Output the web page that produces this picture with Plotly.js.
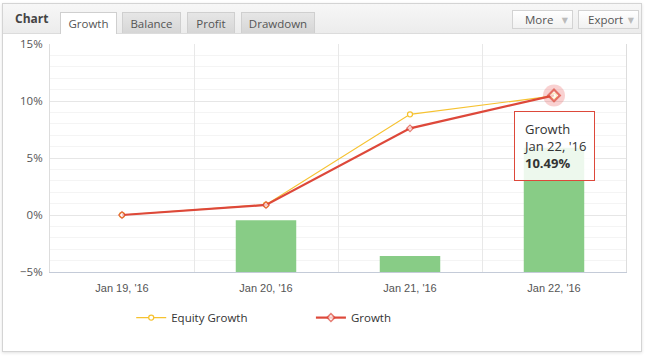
<!DOCTYPE html>
<html>
<head>
<meta charset="utf-8">
<script src="https://cdn.plot.ly/plotly-3.0.1.min.js"></script>
<style>
  html, body { margin:0; padding:0; width:648px; height:357px; background:#ffffff; overflow:hidden; font-family:"Open Sans", "DejaVu Sans", sans-serif; }
  #box { position:absolute; left:2px; top:3px; width:638px; height:347px; border:1px solid #d4d4d4; box-shadow:0 1px 3px rgba(0,0,0,0.12); background:#fff; }
  #head { position:absolute; left:0; top:0; width:638px; height:29px; background:linear-gradient(#f7f7f7,#ececec); border-bottom:1px solid #dcdcdc; }
  #ttl { position:absolute; left:12px; top:6px; font-size:12px; font-weight:bold; color:#444; }
  .tab { position:absolute; top:8px; height:21px; line-height:21px; font-size:11.5px; color:#555; text-align:center; background:linear-gradient(#e6e6e6,#d6d6d6); border:1px solid #cfcfcf; border-bottom:none; box-sizing:border-box; }
  .tab.on { background:#fff; height:22px; }
  .btn { position:absolute; top:6px; height:19px; line-height:18px; font-size:11.5px; color:#555; background:linear-gradient(#ffffff,#f1f1f1); border:1px solid #d3d3d3; box-sizing:border-box; padding-left:9px; }
  .btn span { position:absolute; right:4px; top:0; color:#bbb; font-size:8px; }
  #plot { position:absolute; left:0; top:0; width:648px; height:357px; }
</style>
</head>
<body>
<div id="box">
  <div id="head">
    <div id="ttl">Chart</div>
    <div class="tab on" style="left:57px;width:57px;">Growth</div>
    <div class="tab" style="left:119px;width:59px;">Balance</div>
    <div class="tab" style="left:184px;width:48px;">Profit</div>
    <div class="tab" style="left:238px;width:74px;">Drawdown</div>
    <div class="btn" style="left:509px;width:61px;padding-left:12px;">More<span>&#9660;</span></div>
    <div class="btn" style="left:575px;width:61px;">Export<span>&#9660;</span></div>
  </div>
</div>
<div id="plot"></div>
<script>
// ---- data ----
const dates = ["Jan 19, '16", "Jan 20, '16", "Jan 21, '16", "Jan 22, '16"];
const equityGrowth = [0.0, 0.90, 8.83, 10.45];
const growth = [0.0, 0.88, 7.60, 10.49];
const barTops = [-5.0, -0.45, -3.6, 5.9];
const yTickVals = [-5, 0, 5, 10, 15];
const yTickText = ["\u22125%", "0%", "5%", "10%", "15%"];
const axisMin = -5;

const red = "rgb(221,72,58)";
const yellow = "rgb(246,194,48)";

const traces = [
  {
    type: "bar", x: dates, y: barTops.map(v => v - axisMin), base: axisMin,
    marker: { color: "rgb(136,204,134)" }, width: 0.42, showlegend: false, hoverinfo: "skip"
  },
  {
    type: "scatter", mode: "markers", x: [dates[3]], y: [growth[3]],
    marker: { size: 22, color: "rgba(232,90,90,0.28)" }, showlegend: false, hoverinfo: "skip"
  },
  {
    type: "scatter", mode: "lines+markers", name: "Equity Growth", x: dates, y: equityGrowth,
    line: { color: yellow, width: 1.2 },
    marker: { symbol: "circle", size: 5, color: "#fff", line: { color: yellow, width: 1.3 } },
    legend: "legend"
  },
  {
    type: "scatter", mode: "lines+markers", name: "Growth", x: dates, y: growth,
    line: { color: red, width: 2.2 },
    marker: { symbol: "diamond", size: [5, 5, 5, 9], color: "#fff", line: { color: red, width: [1.3, 1.3, 1.3, 2.2] } },
    legend: "legend2"
  }
];

const legFont = { family: "Open Sans, sans-serif", size: 11.5, color: "#333" };

const layout = {
  width: 648, height: 357,
  margin: { l: 50, r: 22, t: 44, b: 85 },
  paper_bgcolor: "rgba(0,0,0,0)",
  plot_bgcolor: "#fff",
  font: { family: "Liberation Sans, Arial, sans-serif", size: 11, color: "#555" },
  xaxis: {
    type: "category", tickson: "boundaries", showgrid: true, gridcolor: "#e8e8e8", gridwidth: 1,
    ticks: "", showline: true, linecolor: "#c4cbd8", linewidth: 1, mirror: false,
    range: [-0.5, 3.5], fixedrange: true, tickfont: { size: 11, color: "#555" }, ticklabelstandoff: 6
  },
  yaxis: {
    range: [-5, 15], tickmode: "array", tickvals: yTickVals, ticktext: yTickText, showgrid: true, gridcolor: "#e6e6e6",
    minor: { dtick: 1, showgrid: true, gridcolor: "#f4f4f4", ticks: "" },
    zeroline: false, showline: true, linecolor: "#dddddd", mirror: true, ticks: "",
    tickfont: { family: "Open Sans, sans-serif", size: 11.5, color: "#555" }, ticklabelstandoff: 4, fixedrange: true
  },
  legend: { orientation: "h", x: 0.141, xanchor: "left", y: -0.2, yanchor: "middle", font: legFont, bgcolor: "rgba(0,0,0,0)" },
  legend2: { orientation: "h", x: 0.453, xanchor: "left", y: -0.2, yanchor: "middle", font: legFont, bgcolor: "rgba(0,0,0,0)" },
  annotations: [{
    x: dates[3], y: growth[3], xref: "x", yref: "y", showarrow: false,
    xanchor: "center", yanchor: "top", yshift: -16, align: "left",
    text: "Growth<br>" + dates[3] + "<br><b>" + growth[3].toFixed(2) + "%</b>",
    font: { family: "Open Sans, sans-serif", size: 13, color: "#333" },
    bgcolor: "rgba(255,255,255,0.85)", bordercolor: red, borderwidth: 1, borderpad: 8
  }],
  hovermode: false
};

Plotly.newPlot("plot", traces, layout, { displayModeBar: false, staticPlot: true });
</script>
</body>
</html>
